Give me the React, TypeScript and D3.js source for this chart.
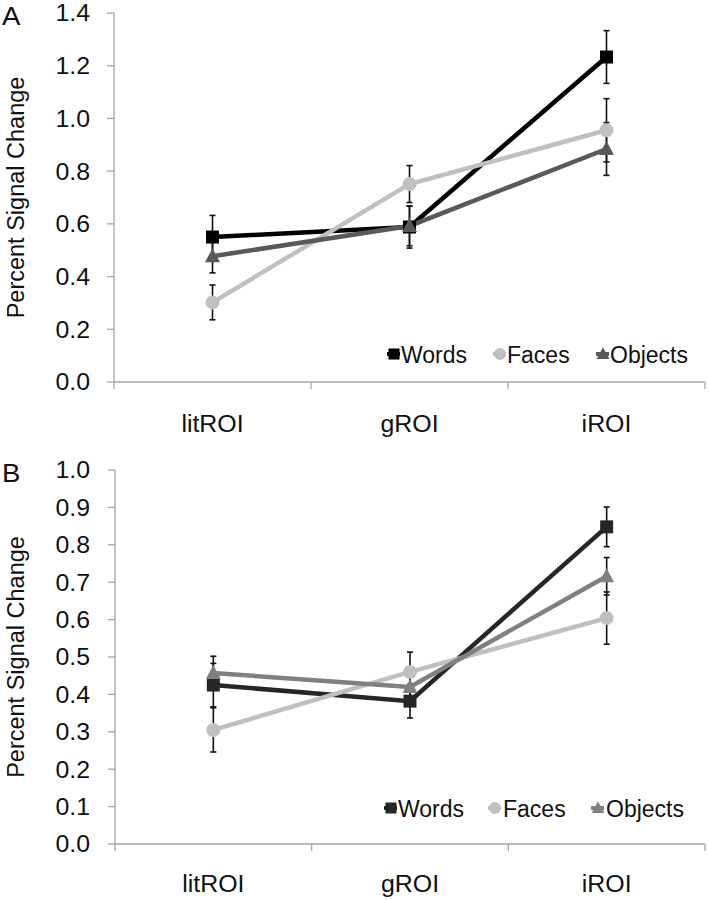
import React from "react";
import * as d3 from "d3";

const categories = ["litROI", "gROI", "iROI"];
const seriesNames = ["Words", "Faces", "Objects"];

// Panel A
const wordsA = [0.55, 0.588, 1.233];
const facesA = [0.302, 0.751, 0.955];
const objectsA = [0.477, 0.592, 0.884];
const wordsErrA = [0.082, 0.08, 0.1];
const facesErrA = [0.066, 0.07, 0.12];
const objectsErrA = [0.063, 0.075, 0.1];
const ticksA = [0, 0.2, 0.4, 0.6, 0.8, 1.0, 1.2, 1.4];

// Panel B
const wordsB = [0.425, 0.382, 0.848];
const facesB = [0.305, 0.46, 0.604];
const objectsB = [0.457, 0.42, 0.716];
const wordsErrB = [0.058, 0.045, 0.053];
const facesErrB = [0.059, 0.053, 0.07];
const objectsErrB = [0.045, 0.05, 0.05];
const ticksB = [0, 0.1, 0.2, 0.3, 0.4, 0.5, 0.6, 0.7, 0.8, 0.9, 1.0];

const FONT = "'Liberation Sans', Arial, sans-serif";
const AXIS = "#a6a6a6";

type Panel = {
  label: string;
  yMax: number;
  ticks: number[];
  values: number[][];
  errors: number[][];
  colors: string[];
  x0: number;
  x1: number;
  yTop: number;
  yBot: number;
  labelBaseline: number;
  catBaseline: number;
  legendY: number;
  legendMarkerX: number[];
  legendTextX: number[];
};

const panels: Panel[] = [
  {
    label: "A",
    yMax: 1.4,
    ticks: ticksA,
    values: [wordsA, facesA, objectsA],
    errors: [wordsErrA, facesErrA, objectsErrA],
    colors: ["#000000", "#c0c0c0", "#595959"],
    x0: 114,
    x1: 705,
    yTop: 13,
    yBot: 382,
    labelBaseline: 25,
    catBaseline: 432,
    legendY: 354,
    legendMarkerX: [394, 500, 603],
    legendTextX: [401, 507, 610],
  },
  {
    label: "B",
    yMax: 1.0,
    ticks: ticksB,
    values: [wordsB, facesB, objectsB],
    errors: [wordsErrB, facesErrB, objectsErrB],
    colors: ["#262626", "#c0c0c0", "#808080"],
    x0: 115,
    x1: 705,
    yTop: 470,
    yBot: 844,
    labelBaseline: 482,
    catBaseline: 892,
    legendY: 808,
    legendMarkerX: [391, 495, 598],
    legendTextX: [398, 503, 606],
  },
];

function Marker({ kind, x, y, color, s = 1 }: { kind: number; x: number; y: number; color: string; s?: number }) {
  if (kind === 0) {
    const h = 6.5 * s;
    return <rect x={x - h} y={y - h} width={2 * h} height={2 * h} fill={color} />;
  }
  if (kind === 1) {
    return <circle cx={x} cy={y} r={7 * s} fill={color} />;
  }
  const w = 7.5 * s;
  const t = 8 * s;
  const b = 6 * s;
  return <path d={`M${x},${y - t}L${x + w},${y + b}L${x - w},${y + b}Z`} fill={color} />;
}

function SText({ x, y, anchor = "start", size, children, dy }: any) {
  // slightly widened text to match the reference's horizontal proportions
  return (
    <text
      transform={`translate(${x},${y}) scale(1.06,1)`}
      textAnchor={anchor}
      dy={dy}
      fontSize={size}
      fontFamily={FONT}
      fill="#111"
    >
      {children}
    </text>
  );
}

function PanelView({ p }: { p: Panel }) {
  const x = d3.scaleBand<string>().domain(categories).range([p.x0, p.x1]);
  const y = d3.scaleLinear().domain([0, p.yMax]).range([p.yBot, p.yTop]);
  const cx = (c: string) => (x(c) as number) + x.bandwidth() / 2;
  const line = d3
    .line<number>()
    .x((_, i) => cx(categories[i]))
    .y((v) => y(v));
  const boundaries = [...categories.map((c) => x(c) as number), p.x1];
  return (
    <g>
      <SText x={2} y={p.labelBaseline} size={26}>
        {p.label}
      </SText>
      <text
        transform={`translate(24,${(p.yTop + p.yBot) / 2}) rotate(-90)`}
        textAnchor="middle"
        fontSize={23.5}
        fontFamily={FONT}
        fill="#111"
      >
        Percent Signal Change
      </text>
      {/* y axis */}
      <line x1={p.x0} x2={p.x0} y1={p.yTop} y2={p.yBot} stroke={AXIS} strokeWidth={1.3} />
      {p.ticks.map((t) => (
        <g key={t}>
          <line x1={p.x0 - 7} x2={p.x0} y1={y(t)} y2={y(t)} stroke={AXIS} strokeWidth={1.3} />
          <SText x={90} y={y(t)} dy="0.36em" anchor="end" size={23.5}>
            {d3.format(".1f")(t)}
          </SText>
        </g>
      ))}
      {/* x axis */}
      <line x1={p.x0} x2={p.x1} y1={p.yBot} y2={p.yBot} stroke={AXIS} strokeWidth={1.3} />
      {boundaries.map((b, i) => (
        <line key={i} x1={b} x2={b} y1={p.yBot} y2={p.yBot + 7} stroke={AXIS} strokeWidth={1.3} />
      ))}
      {categories.map((c) => (
        <SText key={c} x={cx(c)} y={p.catBaseline} anchor="middle" size={23.5}>
          {c}
        </SText>
      ))}
      {/* lines */}
      {p.values.map((vals, si) => (
        <path key={si} d={line(vals) || ""} fill="none" stroke={p.colors[si]} strokeWidth={4.5} />
      ))}
      {/* error bars */}
      {p.values.map((vals, si) =>
        vals.map((v, i) => {
          const xc = cx(categories[i]);
          const e = p.errors[si][i];
          const yt = y(v + e);
          const yb = y(v - e);
          return (
            <g key={`${si}-${i}`} stroke="#111" strokeWidth={1.6}>
              <line x1={xc} x2={xc} y1={yt} y2={yb} />
              <line x1={xc - 3} x2={xc + 3} y1={yt} y2={yt} />
              <line x1={xc - 3} x2={xc + 3} y1={yb} y2={yb} />
            </g>
          );
        })
      )}
      {/* markers */}
      {p.values.map((vals, si) =>
        vals.map((v, i) => (
          <Marker key={`m${si}-${i}`} kind={si} x={cx(categories[i])} y={y(v)} color={p.colors[si]} />
        ))
      )}
      {/* legend */}
      {seriesNames.map((n, si) => (
        <g key={n}>
          <line
            x1={p.legendMarkerX[si] - 7}
            x2={p.legendMarkerX[si] + 6}
            y1={p.legendY}
            y2={p.legendY}
            stroke={p.colors[si]}
            strokeWidth={4}
          />
          <Marker kind={si} x={p.legendMarkerX[si]} y={p.legendY} color={p.colors[si]} s={0.85} />
          <text x={p.legendTextX[si]} y={p.legendY + 9} fontSize={23} fontFamily={FONT} fill="#111">
            {n}
          </text>
        </g>
      ))}
    </g>
  );
}

export default function App() {
  return (
    <svg
      width={709}
      height={900}
      style={{ position: "absolute", left: 0, top: 0, background: "#fff" }}
    >
      {panels.map((p) => (
        <PanelView key={p.label} p={p} />
      ))}
    </svg>
  );
}
